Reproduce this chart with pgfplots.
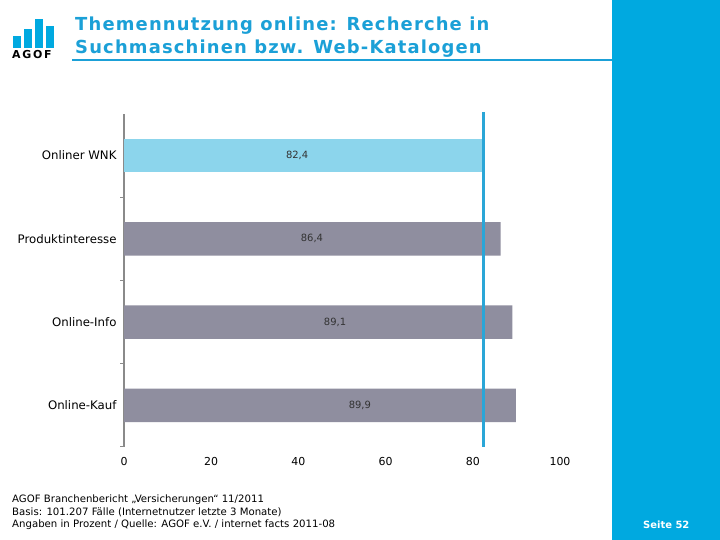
\documentclass[border=0pt]{standalone}
\usepackage{pgfplots}
\pgfplotsset{compat=1.18}
\usepackage{fontspec}
\setmainfont{DejaVu Sans}
\newfontfamily\titlefont[LetterSpace=6.5]{DejaVu Sans}
\newfontfamily\logofont[LetterSpace=16]{DejaVu Sans}
\definecolor{panelblue}{HTML}{00A9E0}
\definecolor{titleblue}{HTML}{1BA0D7}
\definecolor{barblue}{HTML}{8CD5EC}
\definecolor{bargray}{HTML}{8F8E9F}
\definecolor{lineblue}{HTML}{2AA6D7}
\definecolor{axisgray}{HTML}{8A8A8A}
\begin{document}
\begin{tikzpicture}[x=1bp,y=1bp]
\useasboundingbox (0,0) rectangle (720,540);
\fill[white] (0,0) rectangle (720,540);
% right panel
\fill[panelblue] (612,0) rectangle (720,540);
% logo
\fill[panelblue] (13,540-48) rectangle (21,540-36);
\fill[panelblue] (24,540-48) rectangle (32,540-29);
\fill[panelblue] (35,540-48) rectangle (43,540-19);
\fill[panelblue] (46,540-48) rectangle (54,540-26);
\node[anchor=base west, inner sep=0, font=\logofont\fontsize{11}{12}\selectfont\bfseries] at (12,540-59) {AGOF};
% title
\node[anchor=base west, inner sep=0, text=titleblue, font=\titlefont\fontsize{18}{20}\selectfont\bfseries] at (75,540-31) {Themennutzung online: Recherche in};
\node[anchor=base west, inner sep=0, text=titleblue, font=\titlefont\fontsize{18}{20}\selectfont\bfseries] at (75,540-54) {Suchmaschinen bzw. Web-Katalogen};
\draw[titleblue, line width=2bp] (72,540-60) -- (612,540-60);
% footer
\node[anchor=base west, inner sep=0, font=\fontsize{10.2}{11}\selectfont] at (12,540-503) {AGOF Branchenbericht „Versicherungen“ 11/2011};
\node[anchor=base west, inner sep=0, font=\fontsize{10.2}{11}\selectfont] at (12,540-516) {Basis: 101.207 Fälle (Internetnutzer letzte 3 Monate)};
\node[anchor=base west, inner sep=0, font=\fontsize{10.2}{11}\selectfont] at (12,540-528) {Angaben in Prozent / Quelle: AGOF e.V. / internet facts 2011-08};
\node[anchor=base west, inner sep=0, text=white, font=\fontsize{10}{11}\selectfont\bfseries] at (643,540-529) {Seite 52};
\begin{axis}[
  at={(124bp,93bp)}, anchor=south west, scale only axis,
  width=436bp, height=333bp,
  xmin=0, xmax=100, ymin=-0.5, ymax=3.5,
  xtick={0,20,40,60,80,100},
  ytick={0,1,2,3},
  yticklabels={Online-Kauf,Online-Info,Produktinteresse,Onliner WNK},
  minor ytick={0.5,1.5,2.5,-0.5},
  axis lines*=left,
  x axis line style={draw=none},
  y axis line style={draw=axisgray, line width=1.2pt},
  major tick length=0pt,
  minor tick length=4bp,
  tick align=outside,
  minor tick style={draw=axisgray, line width=1pt},
  /pgf/number format/assume math mode=true,
  xticklabel style={font=\fontsize{11}{12}\selectfont, yshift=-7bp},
  yticklabel style={font=\fontsize{11.8}{13}\selectfont, xshift=-4bp},
  clip=false,
]
\addplot[xbar, bar shift=0pt, bar width=0.4, fill=barblue, draw=none] coordinates {(82.4,3)};
\addplot[xbar, bar shift=0pt, bar width=0.4, fill=bargray, draw=none] coordinates {(86.4,2) (89.1,1) (89.9,0)};
\addplot[lineblue, line width=3bp, mark=none] coordinates {(82.4,-0.5) (82.4,3.52)};
\addplot[draw=none, mark=none, nodes near coords, point meta=explicit symbolic,
  every node near coord/.append style={anchor=center, text=black!80, font=\fontsize{10}{11}\selectfont}]
  table[meta=label] {
x y label
39.7 3 82,4
43.1 2 86,4
48.4 1 89,1
54.1 0 89,9
};
\end{axis}
\end{tikzpicture}
\end{document}
